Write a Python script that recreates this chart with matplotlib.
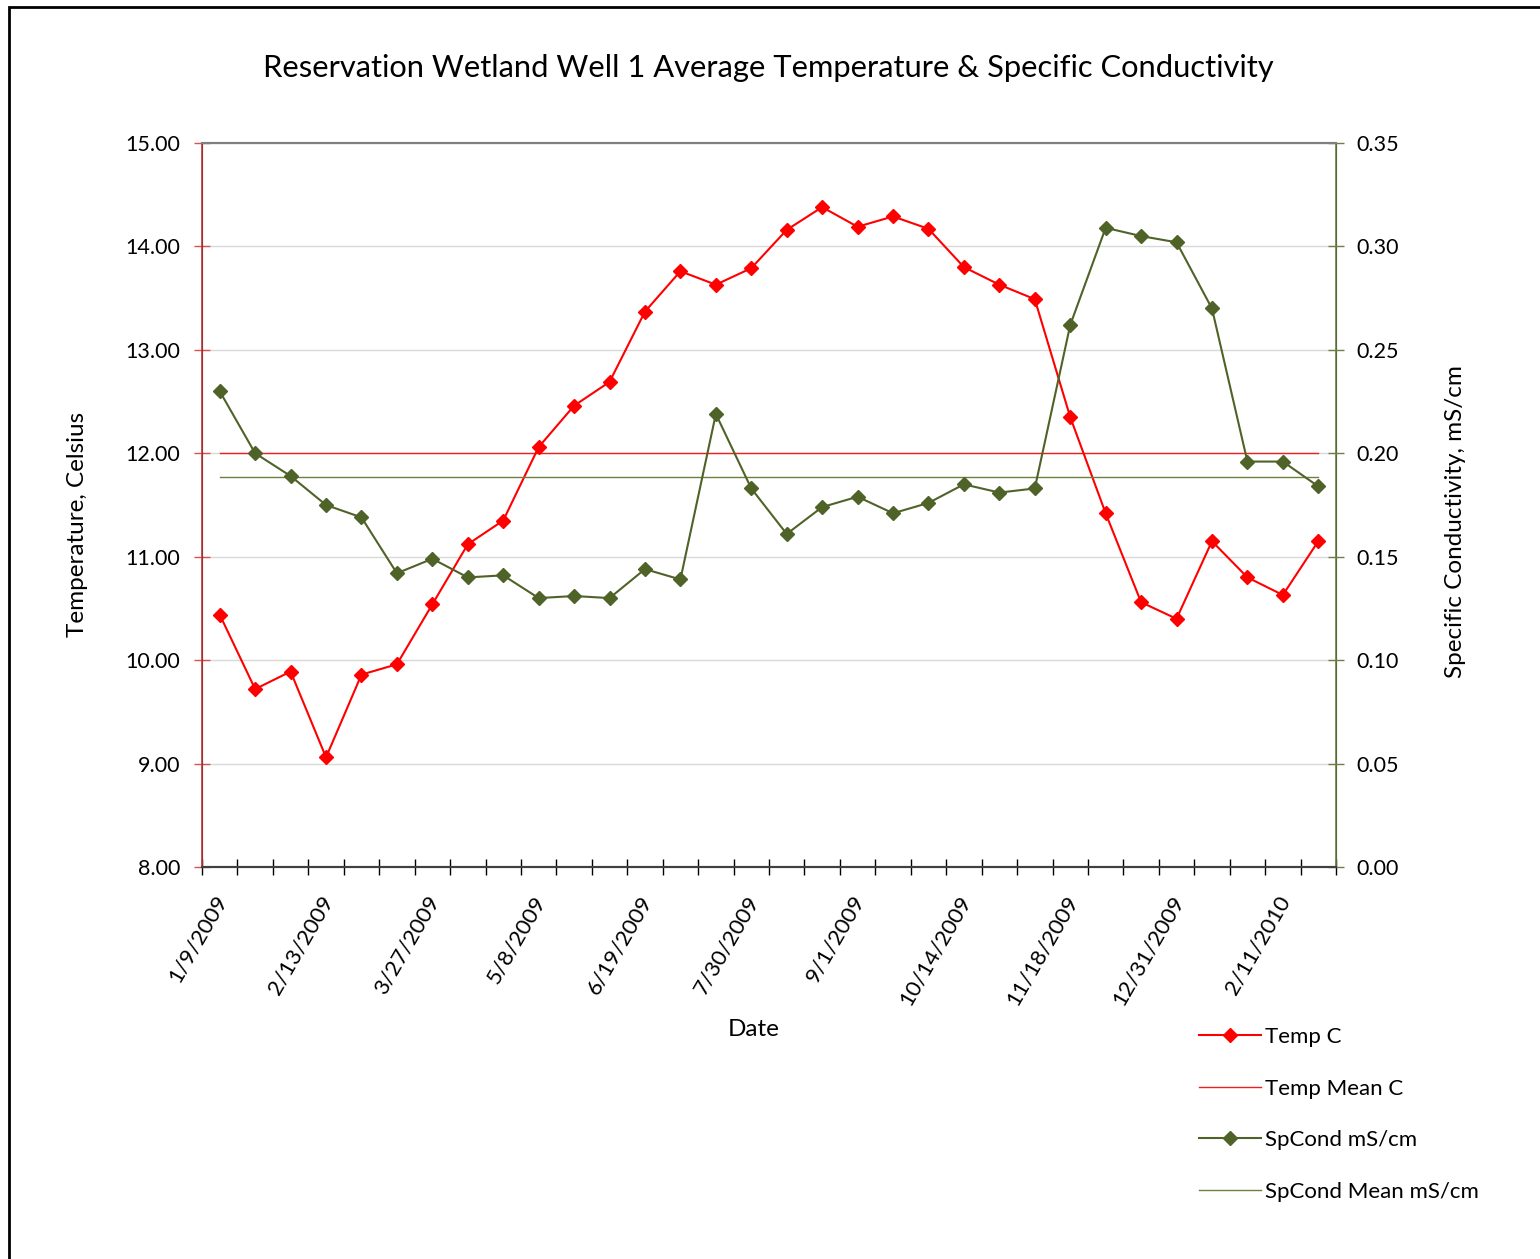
import numpy as np
import matplotlib
matplotlib.use("Agg")
import matplotlib.pyplot as plt
import matplotlib.transforms as mtransforms
from matplotlib.patches import Rectangle

plt.rcParams['font.family'] = ['Lato', 'DejaVu Sans']

# sampling dates (only every third one is labelled on the chart)
dates = ["1/9/2009", "1/23/2009", "2/2/2009", "2/13/2009", "2/27/2009", "3/13/2009",
         "3/27/2009", "4/10/2009", "4/24/2009", "5/8/2009", "5/22/2009", "6/5/2009",
         "6/19/2009", "7/2/2009", "7/16/2009", "7/30/2009", "8/11/2009", "8/21/2009",
         "9/1/2009", "9/15/2009", "9/29/2009", "10/14/2009", "10/26/2009", "11/6/2009",
         "11/18/2009", "12/3/2009", "12/17/2009", "12/31/2009", "1/14/2010", "1/28/2010",
         "2/11/2010", "2/25/2010"]

temp_c = [10.44, 9.72, 9.89, 9.06, 9.86, 9.96, 10.54, 11.12, 11.35, 12.06, 12.46, 12.69,
          13.37, 13.76, 13.63, 13.79, 14.16, 14.38, 14.19, 14.29, 14.17, 13.80, 13.63, 13.49,
          12.35, 11.42, 10.56, 10.40, 11.15, 10.80, 10.63, 11.15]
temp_mean = 12.00

spcond = [0.230, 0.200, 0.189, 0.175, 0.169, 0.142, 0.149, 0.140, 0.141, 0.130, 0.131, 0.130,
          0.144, 0.139, 0.219, 0.183, 0.161, 0.174, 0.179, 0.171, 0.176, 0.185, 0.181, 0.183,
          0.262, 0.309, 0.305, 0.302, 0.270, 0.196, 0.196, 0.184]
spcond_mean = 0.1885

temp_ticks = [8, 9, 10, 11, 12, 13, 14, 15]
cond_ticks = [0.00, 0.05, 0.10, 0.15, 0.20, 0.25, 0.30, 0.35]

RED = "#FF0000"
OLIVE = "#4F6228"
OLIVE_LIGHT = "#6E8040"


def main():
    W, H = 1540, 1259
    fig = plt.figure(figsize=(W / 100, H / 100), dpi=100)
    ax = fig.add_axes([202 / W, 1 - 867 / H, (1336 - 202) / W, (867 - 143) / H])
    ax2 = ax.twinx()

    x = np.arange(len(dates))

    # grid + left axis
    ax.set_ylim(8, 15)
    ax.set_yticks(temp_ticks)
    ax.set_yticklabels(["%.2f" % v for v in temp_ticks])
    ax.yaxis.grid(True, color="#D9D9D9", linewidth=1.0)
    ax.set_axisbelow(True)

    ax2.set_ylim(0, 0.35)
    ax2.set_yticks(cond_ticks)
    ax2.set_yticklabels(["%.2f" % v for v in cond_ticks])

    l1, = ax.plot(x, temp_c, color=RED, lw=1.5, marker="D", ms=7.5, zorder=4)
    l2, = ax.plot([x[0], x[-1]], [temp_mean, temp_mean], color="#F02020", lw=1.0, zorder=3)
    l3, = ax2.plot(x, spcond, color=OLIVE, lw=1.5, marker="D", ms=7.5, zorder=4)
    l4, = ax2.plot([x[0], x[-1]], [spcond_mean, spcond_mean], color=OLIVE_LIGHT, lw=1.0, zorder=3)

    # category axis: ticks on boundaries, labels every third category
    ax.set_xlim(-0.5, len(dates) - 0.5)
    ax.set_xticks(x[::3])
    ax.set_xticklabels(dates[::3], rotation=60, ha="right", va="top",
                       rotation_mode="anchor", fontsize=16)
    ax.set_xticks(np.arange(-0.5, len(dates)), minor=True)
    ax.tick_params(axis="x", which="major", length=0, pad=18)
    ax.tick_params(axis="x", which="minor", direction="inout", length=11, width=1, color="#000000")
    shift = mtransforms.ScaledTranslation(-6 / 100, 0, fig.dpi_scale_trans)
    for lbl in ax.get_xticklabels():
        lbl.set_transform(lbl.get_transform() + shift)

    ax.tick_params(axis="y", direction="inout", length=11, width=1, color="#E05050",
                   labelsize=15.5, pad=10)
    ax2.tick_params(axis="y", direction="inout", length=11, width=1, color="#6E7F45",
                    labelsize=15.5, pad=9)

    for a in (ax, ax2):
        a.spines["top"].set_color("#808080")
        a.spines["top"].set_linewidth(1.5)
        a.spines["bottom"].set_color("#404040")
        a.spines["bottom"].set_linewidth(1.5)
    ax2.spines["left"].set_color("#C0393B")
    ax2.spines["left"].set_linewidth(1.2)
    ax2.spines["right"].set_color("#6E7F45")
    ax2.spines["right"].set_linewidth(1.2)

    fig.text(768 / W, 1 - 68 / H,
             "Reservation Wetland Well 1 Average Temperature & Specific Conductivity",
             ha="center", va="center", fontsize=22.2)
    fig.text(78 / W, 1 - 524 / H, "Temperature, Celsius", rotation=90,
             ha="center", va="center", fontsize=17.5)
    fig.text(1456 / W, 1 - 522 / H, "Specific Conductivity, mS/cm", rotation=90,
             ha="center", va="center", fontsize=17.5)
    fig.text(754 / W, 1 - 1030 / H, "Date", ha="center", va="center", fontsize=17.5)

    fig.legend([l1, l2, l3, l4], ["Temp C", "Temp Mean C", "SpCond mS/cm", "SpCond Mean mS/cm"],
               loc="upper left", bbox_to_anchor=(1188 / W, 1 - 1016 / H),
               frameon=False, fontsize=16, handlelength=2.8, handletextpad=0.15,
               labelspacing=1.42, borderpad=0)

    # outer chart border (only top and left edges are visible)
    fig.patches.append(Rectangle((8.5 / W, -0.05), 1.2, 1 - 6.5 / H + 0.05,
                                 transform=fig.transFigure, fill=False,
                                 edgecolor="black", linewidth=2))

    fig.savefig("out.png", dpi=100)


if __name__ == "__main__":
    main()
